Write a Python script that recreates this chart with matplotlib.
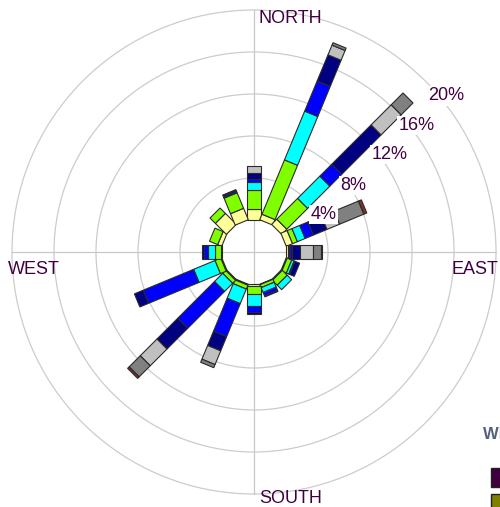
import numpy as np
import matplotlib.pyplot as plt
from matplotlib.patches import Polygon, Circle, Rectangle

# wind directions, clockwise from north
directions = ["N", "NNE", "NE", "ENE", "E", "ESE", "SE", "SSE",
              "S", "SSW", "SW", "WSW", "W", "WNW", "NW", "NNW"]
angles = np.arange(len(directions)) * 22.5

# frequency (%) per speed class and direction
light_air    = [1.07, 0.57, 0.70, 0.65, 0.20, 0.10, 0.10, 0.05, 0.15, 0.10, 0.10, 0.10, 0.05, 0.42, 1.48, 1.18]
light_breeze = [1.81, 5.60, 2.80, 0.50, 0.10, 0.47, 0.65, 0.30, 0.78, 0.40, 0.40, 0.60, 0.62, 0.84, 0.72, 1.60]
gentle       = [0.72, 5.03, 3.00, 0.80, 0.10, 0.25, 0.60, 0.50, 1.12, 1.50, 1.10, 2.20, 0.69, 0.00, 0.00, 0.10]
moderate     = [0.32, 3.10, 1.60, 0.85, 0.15, 0.08, 0.00, 0.35, 0.64, 3.40, 4.95, 5.20, 0.33, 0.00, 0.00, 0.15]
fresh        = [0.54, 2.70, 5.30, 1.40, 0.75, 0.48, 0.00, 0.10, 0.21, 1.47, 2.80, 0.90, 0.19, 0.00, 0.00, 0.07]
strong       = [0.73, 1.00, 2.70, 1.30, 1.30, 0.00, 0.00, 0.00, 0.00, 1.41, 2.25, 0.00, 0.00, 0.00, 0.00, 0.00]
near_gale    = [0.00, 0.25, 1.60, 2.50, 0.70, 0.00, 0.00, 0.00, 0.00, 0.32, 1.50, 0.00, 0.00, 0.00, 0.00, 0.00]
gale         = [0.00, 0.00, 0.00, 0.30, 0.15, 0.00, 0.00, 0.00, 0.00, 0.00, 0.20, 0.00, 0.00, 0.00, 0.00, 0.00]

series = [light_air, light_breeze, gentle, moderate, fresh, strong, near_gale, gale]
colors = ["#FFFF99", "#80FF00", "#00FFFF", "#0000FF", "#000080", "#C0C0C0", "#808080", "#803030"]

ring_ticks = [4, 8, 12, 16, 20]
compass = ["NORTH", "EAST", "SOUTH", "WEST"]

# layout (pixels of the 500x507 picture)
scale = 10.5          # px per percent
cx, cy = 254, 252     # centre of the rose
hole = 32 / scale     # empty centre
bar_w = 1.35
txt_col = "#400040"


def px(x, y):
    return (x - cx) / scale, (cy - y) / scale


fig = plt.figure(figsize=(5.0, 5.07), dpi=100)
ax = fig.add_axes([0, 0, 1, 1])
ax.set_xlim(-cx / scale, (500 - cx) / scale)
ax.set_ylim(-(507 - cy) / scale, cy / scale)
ax.axis("off")

# grid
outer = hole + ring_ticks[-1]
for t in ring_ticks:
    ax.add_patch(Circle((0, 0), hole + t, fill=False, ec="#CCCCCC", lw=0.9, zorder=1))
ax.plot([-outer, outer], [0, 0], color="#C8C8C8", lw=0.9, zorder=1)
ax.plot([0, 0], [-outer, outer], color="#C8C8C8", lw=0.9, zorder=1)

# stacked bars of constant width
base = np.full(len(angles), hole)
for vals, col in zip(series, colors):
    vals = np.asarray(vals)
    for ang, b, v in zip(angles, base, vals):
        if v <= 0:
            continue
        t = np.radians(ang)
        u = np.array([np.sin(t), np.cos(t)])
        n = np.array([np.cos(t), -np.sin(t)]) * bar_w / 2
        pts = [b * u - n, (b + v) * u - n, (b + v) * u + n, b * u + n]
        ax.add_patch(Polygon(pts, closed=True, fc=col, ec="#2A2A2A", lw=0.8, zorder=3))
    base = base + vals

# ring labels
label_pos = [(323.5, 214.5), (353.5, 185.5), (389.5, 154.5), (417, 125.5), (446.5, 96)]
for t, (x, y) in zip(ring_ticks, label_pos):
    ax.text(*px(x, y), f"{t}%", ha="center", va="center", fontsize=13,
            family="Liberation Sans", color=txt_col, zorder=5,
            bbox=dict(fc="white", ec="none", pad=1.0))

# compass labels
compass_pos = [(259, 23), (452, 274), (259, 503), (8, 274)]
for name, (x, y) in zip(compass, compass_pos):
    ax.text(*px(x, y), name, ha="left", va="baseline", fontsize=13,
            family="Liberation Sans", color=txt_col, zorder=5)

# legend (cut off at the right edge, as in the original)
ax.text(*px(483, 439), "WIND SPEED", ha="left", va="baseline", fontsize=12,
        family="Liberation Sans", fontweight="bold", color="#55607F", zorder=5)
for (x, y), col in zip([(491, 468), (491, 494)], ["#400040", "#808000"]):
    x0, y0 = px(x, y + 18.5)
    ax.add_patch(Rectangle((x0, y0), 20 / scale, 18.5 / scale, fc=col, ec="#222222", lw=1.0, zorder=5))

fig.savefig("out.png", dpi=100)
